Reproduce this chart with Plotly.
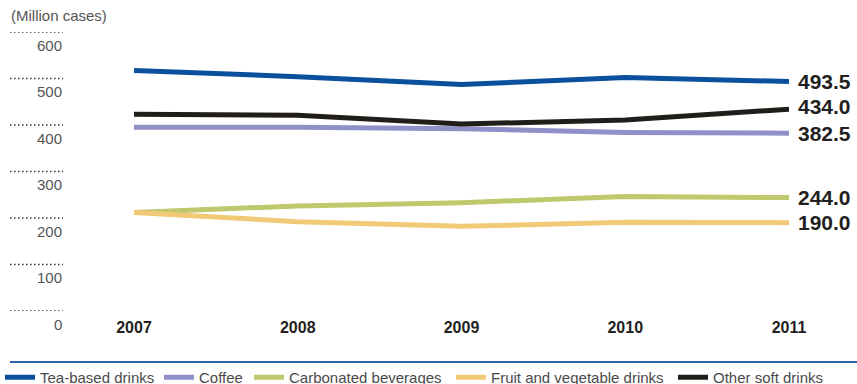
import plotly.graph_objects as go

# ---- data ----
years = [2007, 2008, 2009, 2010, 2011]
series_names = ["Tea-based drinks", "Coffee", "Carbonated beverages",
                "Fruit and vegetable drinks", "Other soft drinks"]
tea = [517, 504, 487, 502, 493.5]
coffee = [395, 395, 392, 384, 382.5]
carbonated = [212, 226, 233, 246, 244]
fruit = [212, 192, 182, 191, 190]
other = [423, 421, 402, 411, 434]
series_values = [tea, coffee, carbonated, fruit, other]
y_ticks = [0, 100, 200, 300, 400, 500, 600]
y_title = "(Million cases)"

# ---- styles / layout ----
colors = ["#0a509c", "#9090c8", "#bfc86c", "#f2c977", "#211d19"]
label_yshift = [0, 0, 0, 0, 3]
legend_text_x = [38, 201, 291, 493, 715]   # px positions of legend texts

W, H = 857, 384
L, R, T, B = 134, 68, 32, 73
PW, PH = W - L - R, H - T - B

def px_x(p):
    return (p - L) / PW

def px_y(p):
    return (H - B - p) / PH

FONT = "Liberation Sans, Arial, sans-serif"

fig = go.Figure()
for i, (name, vals) in enumerate(zip(series_names, series_values)):
    fig.add_trace(go.Scatter(
        x=years, y=vals, name=name, mode="lines",
        line=dict(color=colors[i], width=5),
        legend="legend" if i == 0 else f"legend{i+1}",
    ))
    fig.add_annotation(
        x=years[-1], y=vals[-1], xref="x", yref="y",
        text=f"{vals[-1]:.1f}", showarrow=False,
        xanchor="left", yanchor="middle", xshift=7, yshift=label_yshift[i],
        font=dict(family=FONT, size=21, color="#231f20", weight="bold"),
    )

shapes = []
for t in y_ticks:
    shapes.append(dict(type="line", xref="paper", yref="y",
                       x0=px_x(10), x1=px_x(63), y0=t, y1=t,
                       line=dict(color="#333333", width=1.5, dash="1.5px,2.5px")))
    fig.add_annotation(x=px_x(64), y=t, xref="paper", yref="y", text=str(t),
                       showarrow=False, xanchor="right", yanchor="middle",
                       yshift=-13, font=dict(family=FONT, size=15, color="#555555"))
# legend rule
shapes.append(dict(type="line", xref="paper", yref="paper",
                   x0=px_x(10), x1=px_x(857), y0=px_y(362), y1=px_y(362),
                   line=dict(color="#2e64a6", width=2)))

fig.add_annotation(x=px_x(9), y=px_y(16), xref="paper", yref="paper",
                   text=y_title, showarrow=False, xanchor="left", yanchor="middle",
                   font=dict(family=FONT, size=15, color="#555555"))

legends = {}
for i in range(len(series_names)):
    key = "legend" if i == 0 else f"legend{i+1}"
    legends[key] = dict(
        orientation="h", xref="container", yref="container",
        x=(legend_text_x[i] - 42) / W, xanchor="left",
        y=1 - 377.5 / H, yanchor="middle",
        bgcolor="rgba(0,0,0,0)", borderwidth=0,
        font=dict(family=FONT, size=15, color="#4a4a4a"),
        itemclick=False, itemdoubleclick=False,
    )

fig.update_layout(
    width=W, height=H,
    margin=dict(l=L, r=R, t=T, b=B, pad=0),
    paper_bgcolor="white", plot_bgcolor="white",
    showlegend=True,
    shapes=shapes,
    xaxis=dict(range=[years[0], years[-1]], tickvals=years,
               ticktext=[str(y) for y in years],
               showgrid=False, zeroline=False, showline=False, ticks="",
               ticklabelstandoff=5,
               tickfont=dict(family=FONT, size=16, color="#231f20", weight="bold")),
    yaxis=dict(range=[0, 600], showgrid=False, zeroline=False, showline=False,
               showticklabels=False, ticks=""),
    **legends,
)

fig.write_html("out.html")
